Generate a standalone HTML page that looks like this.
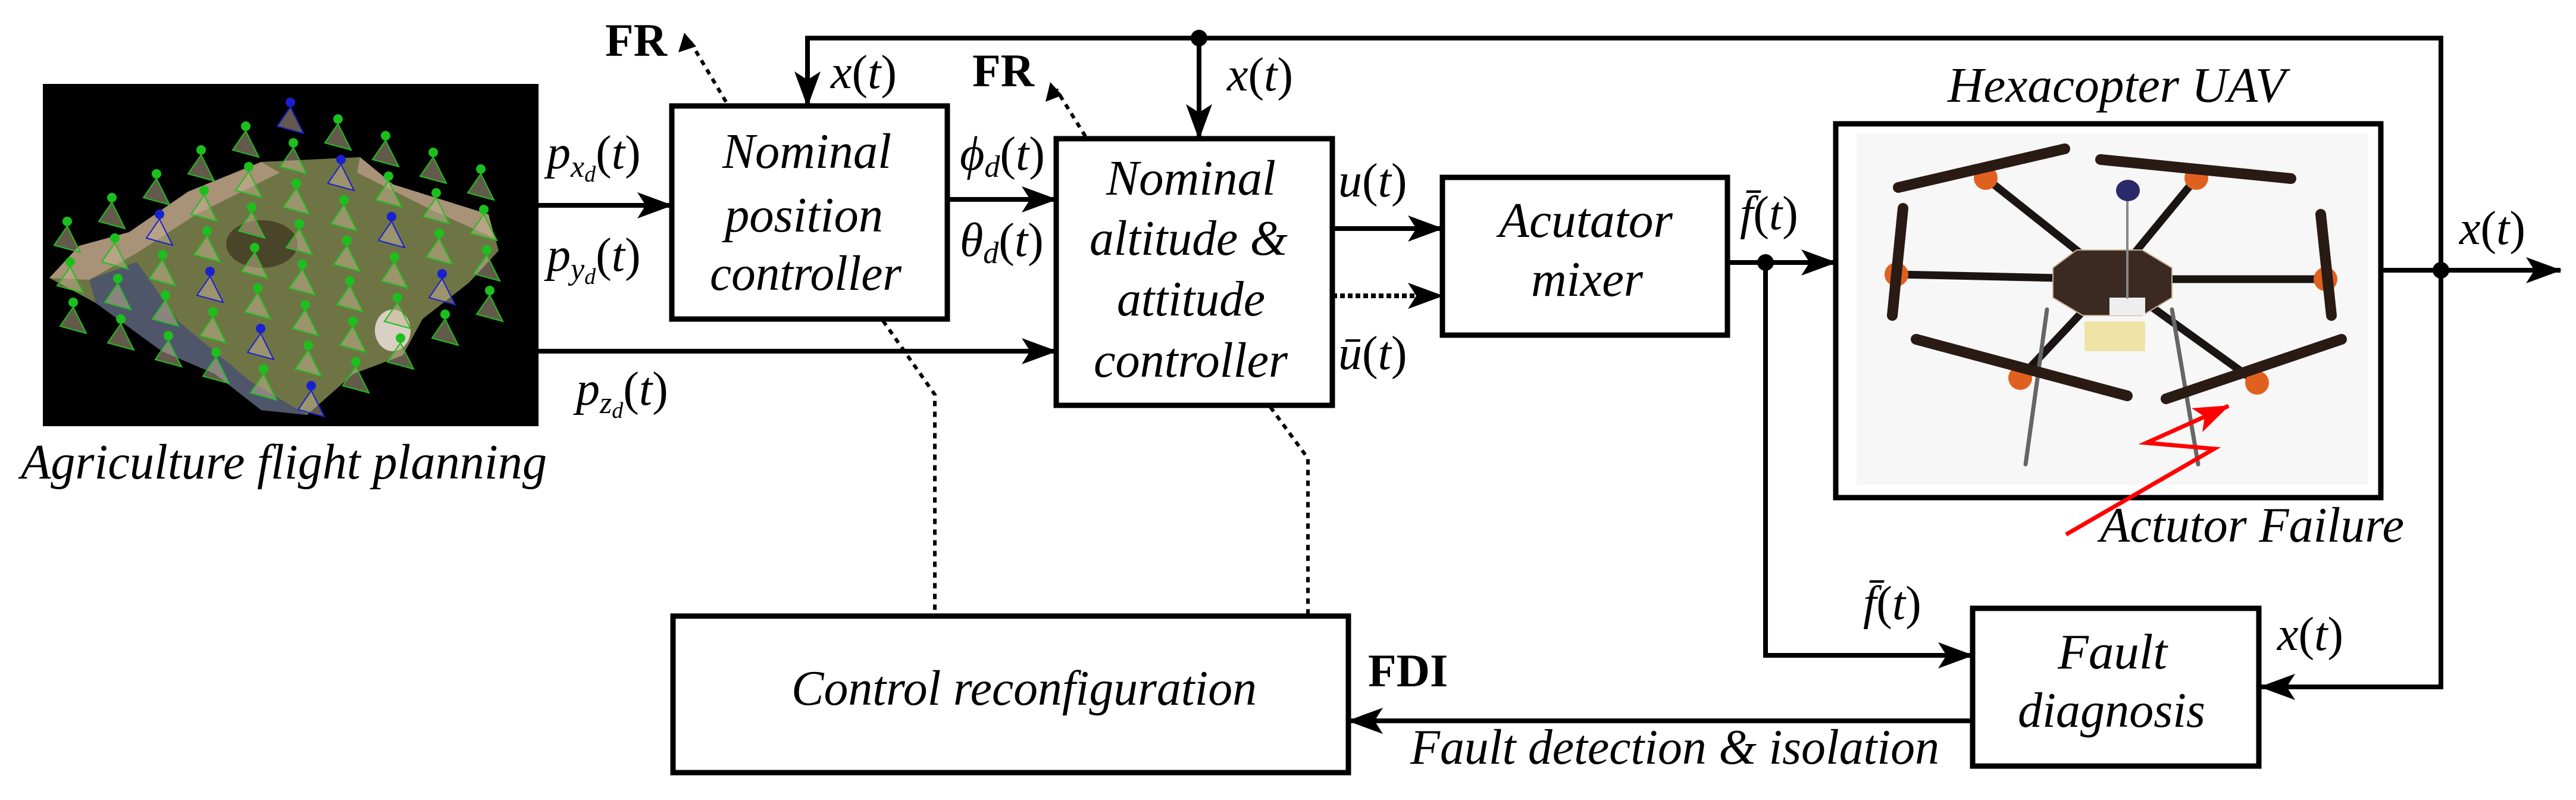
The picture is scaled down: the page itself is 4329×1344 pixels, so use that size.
<!DOCTYPE html>
<html><head><meta charset="utf-8"><style>
html,body{margin:0;padding:0;background:#fff;}
svg{display:block;}
text{font-family:"Liberation Serif",serif;font-style:italic;fill:#000;}
.b{font-style:normal;font-weight:bold;}
.up{font-style:normal;}
</style></head><body>
<svg id="s" width="4329" height="1344" viewBox="0 0 4329 1344" xmlns="http://www.w3.org/2000/svg">
<defs>
<marker id="ahl" viewBox="0 0 60 44" refX="58" refY="22" markerWidth="60" markerHeight="44" markerUnits="userSpaceOnUse" orient="auto">
<path d="M0,0 L60,22 L0,44 L14,22 z" fill="#000"/></marker>
<marker id="ahr" viewBox="0 0 60 44" refX="58" refY="22" markerWidth="60" markerHeight="44" markerUnits="userSpaceOnUse" orient="auto">
<path d="M0,0 L60,22 L0,44 L14,22 z" fill="#f00"/></marker>
</defs>

<!-- photo -->
<rect x="72" y="141" width="833" height="575" fill="#000"/>
<polygon points="83,467 133,413 217,390 316,322 439,272 605,264 661,310 821,360 838,421 788,475 710,536 677,597 594,628 516,697 439,689 361,628 272,590 161,509" fill="#6f7445"/>
<polygon points="83,467 133,413 217,390 316,322 439,272 470,290 330,360 230,425 150,470" fill="#a89278"/>
<polygon points="605,264 661,310 821,360 830,400 720,350 600,290" fill="#a89278"/>
<polygon points="150,470 230,440 300,540 420,640 516,697 439,689 361,628 272,590 161,509" fill="#4f566a"/>
<ellipse cx="440" cy="410" rx="60" ry="40" fill="#4a4428"/>
<ellipse cx="660" cy="555" rx="30" ry="35" fill="#d8d0c4"/>
<g id="dots"></g>

<!-- connectors -->
<g stroke="#000" stroke-width="8" fill="none">
<polyline points="1357,64 4102,64 4102,1154 3799,1154" marker-end="url(#ahl)"/>
<line x1="1357" y1="60" x2="1357" y2="178" marker-end="url(#ahl)"/>
<line x1="2015" y1="64" x2="2015" y2="233" marker-end="url(#ahl)"/>
<line x1="905" y1="345" x2="1129" y2="345" marker-end="url(#ahl)"/>
<line x1="905" y1="590" x2="1775" y2="590" marker-end="url(#ahl)"/>
<line x1="1592" y1="335" x2="1775" y2="335" marker-end="url(#ahl)"/>
<line x1="2239" y1="384" x2="2424" y2="384" marker-end="url(#ahl)"/>
<line x1="2239" y1="497" x2="2424" y2="497" stroke-dasharray="8,5" marker-end="url(#ahl)"/>
<line x1="2903" y1="441" x2="3085" y2="441" marker-end="url(#ahl)"/>
<polyline points="2967,441 2967,1101 3315,1101" marker-end="url(#ahl)"/>
<line x1="4001" y1="454" x2="4303" y2="454" marker-end="url(#ahl)"/>
<line x1="3315" y1="1211" x2="2266" y2="1211" marker-end="url(#ahl)"/>
</g>
<g stroke="#000" stroke-width="6" fill="none" stroke-dasharray="9,9">
<polyline points="1484,539 1571,663 1571,1035"/>
<polyline points="2135,684 2198,770 2198,1035"/>
<line x1="1220" y1="171" x2="1160" y2="70"/>
<line x1="1824" y1="229" x2="1775" y2="150"/>
</g>
<path d="M1150,55 L1140,88 L1170,78 z" fill="#000"/>
<path d="M1765,138 L1757,171 L1785,160 z" fill="#000"/>
<circle cx="2015" cy="64" r="14" fill="#000"/>
<circle cx="2967" cy="441" r="14" fill="#000"/>
<circle cx="4102" cy="454" r="14" fill="#000"/>

<!-- boxes -->
<g stroke="#000" stroke-width="9" fill="none">
<rect x="1129" y="178" width="463" height="358"/>
<rect x="1775" y="233" width="464" height="448"/>
<rect x="2424" y="298" width="479" height="265"/>
<rect x="1131" y="1035" width="1135" height="263"/>
<rect x="3315" y="1022" width="481" height="265"/>
</g>
<rect x="3120" y="225" width="860" height="590" fill="#f7f7f7"/>
<rect x="3085" y="208" width="916" height="628" stroke="#000" stroke-width="9" fill="none"/>

<!-- drone -->
<g stroke-linecap="round">
<g stroke="#1a1512" stroke-width="13">
<line x1="3551" y1="469" x2="3337" y2="299"/><line x1="3551" y1="469" x2="3691" y2="299"/>
<line x1="3551" y1="469" x2="3187" y2="461"/><line x1="3551" y1="469" x2="3908" y2="469"/>
<line x1="3551" y1="469" x2="3395" y2="635"/><line x1="3551" y1="469" x2="3793" y2="643"/>
</g>
<g stroke="#666" stroke-width="7"><line x1="3440" y1="520" x2="3404" y2="780"/><line x1="3650" y1="520" x2="3694" y2="780"/></g>
<rect x="3503" y="540" width="102" height="50" fill="#efe4a6"/>
<polygon points="3490,420 3600,420 3650,450 3650,500 3600,530 3500,530 3450,500 3450,450" fill="#3a2a22" stroke="#c8b090" stroke-width="2"/>
<rect x="3545" y="500" width="60" height="30" fill="#eee"/>
<line x1="3575" y1="320" x2="3575" y2="500" stroke="#888" stroke-width="4"/>
<ellipse cx="3576" cy="320" rx="20" ry="18" fill="#2a2a6a"/>
<g fill="#e06020">
<circle cx="3337" cy="299" r="20"/><circle cx="3691" cy="299" r="20"/><circle cx="3187" cy="461" r="20"/>
<circle cx="3908" cy="469" r="20"/><circle cx="3395" cy="635" r="20"/><circle cx="3793" cy="643" r="20"/>
</g>
<g stroke="#2a1a14" stroke-width="18">
<line x1="3190" y1="315" x2="3470" y2="250"/><line x1="3530" y1="268" x2="3850" y2="300"/>
<line x1="3198" y1="350" x2="3180" y2="530"/><line x1="3900" y1="360" x2="3918" y2="530"/>
<line x1="3220" y1="570" x2="3575" y2="665"/><line x1="3640" y1="670" x2="3935" y2="570"/>
</g>
</g>
<polyline points="3472,898 3721,754 3607,744 3745,682" stroke="#f00" stroke-width="7" fill="none" marker-end="url(#ahr)"/>

<!-- text -->
<g font-size="84">
<text x="1214" y="282" textLength="284" lengthAdjust="spacingAndGlyphs">Nominal</text>
<text x="1218" y="389" textLength="266" lengthAdjust="spacingAndGlyphs">position</text>
<text x="1193" y="487" textLength="322" lengthAdjust="spacingAndGlyphs">controller</text>
<text x="1859" y="327" textLength="285" lengthAdjust="spacingAndGlyphs">Nominal</text>
<text x="1831" y="428" textLength="333" lengthAdjust="spacingAndGlyphs">altitude &amp;</text>
<text x="1877" y="530" textLength="249" lengthAdjust="spacingAndGlyphs">attitude</text>
<text x="1838" y="633" textLength="326" lengthAdjust="spacingAndGlyphs">controller</text>
<text x="2519" y="398" textLength="292" lengthAdjust="spacingAndGlyphs">Acutator</text>
<text x="2573" y="497" textLength="188" lengthAdjust="spacingAndGlyphs">mixer</text>
<text x="3458" y="1123" textLength="184" lengthAdjust="spacingAndGlyphs">Fault</text>
<text x="3391" y="1221" textLength="315" lengthAdjust="spacingAndGlyphs">diagnosis</text>
<text x="3273" y="171" textLength="568" lengthAdjust="spacingAndGlyphs">Hexacopter UAV</text>
<text x="3529" y="910" textLength="511" lengthAdjust="spacingAndGlyphs">Actutor Failure</text>
<text x="2370" y="1283" textLength="889" lengthAdjust="spacingAndGlyphs">Fault detection &amp; isolation</text>
<text x="1330" y="1184" textLength="782" lengthAdjust="spacingAndGlyphs">Control reconfiguration</text>
<text x="35" y="804" textLength="884" lengthAdjust="spacingAndGlyphs">Agriculture flight planning</text>
</g>
<g class="b" font-size="78">
<text class="b" x="1017" y="94">FR</text>
<text class="b" x="1634" y="145">FR</text>
<text class="b" x="2299" y="1153">FDI</text>
</g>
<g font-size="80">
<text x="919" y="283">p<tspan font-size="52" dy="14">x</tspan><tspan font-size="38" dy="8">d</tspan><tspan class="up" dy="-22">(</tspan>t<tspan class="up">)</tspan></text>
<text x="919" y="455">p<tspan font-size="52" dy="14">y</tspan><tspan font-size="38" dy="8">d</tspan><tspan class="up" dy="-22">(</tspan>t<tspan class="up">)</tspan></text>
<text x="968" y="680">p<tspan font-size="52" dy="14">z</tspan><tspan font-size="38" dy="8">d</tspan><tspan class="up" dy="-22">(</tspan>t<tspan class="up">)</tspan></text>
<text x="1613" y="285">ϕ<tspan font-size="52" dy="12">d</tspan><tspan class="up" dy="-12">(</tspan>t<tspan class="up">)</tspan></text>
<text x="1613" y="430">θ<tspan font-size="52" dy="12">d</tspan><tspan class="up" dy="-12">(</tspan>t<tspan class="up">)</tspan></text>
<text x="1396" y="148">x<tspan class="up">(</tspan>t<tspan class="up">)</tspan></text>
<text x="2062" y="152">x<tspan class="up">(</tspan>t<tspan class="up">)</tspan></text>
<text x="2249" y="330">u<tspan class="up">(</tspan>t<tspan class="up">)</tspan></text>
<text x="2249" y="620">ū<tspan class="up">(</tspan>t<tspan class="up">)</tspan></text>
<text x="2924" y="385">f̄<tspan class="up">(</tspan>t<tspan class="up">)</tspan></text>
<text x="3131" y="1040">f̄<tspan class="up">(</tspan>t<tspan class="up">)</tspan></text>
<text x="4133" y="410">x<tspan class="up">(</tspan>t<tspan class="up">)</tspan></text>
<text x="3827" y="1092">x<tspan class="up">(</tspan>t<tspan class="up">)</tspan></text>
</g>
</svg>
<script>
var g=document.getElementById('dots'),h='';
for(var i=0;i<8;i++)for(var j=0;j<8;j++){
var x=488+80*i-75*j,y=172+28*i+40*j;
if(x<90||x>880||y<150||y>700)continue;
var c=((i*3+j)%7==0)?'#1a20d0':'#1cc01c';
h+='<polygon points="'+(x-22)+','+(y+40)+' '+(x+22)+','+(y+52)+' '+x+','+(y+8)+'" fill="rgba(200,180,150,0.5)" stroke="'+c+'" stroke-width="2"/>';
h+='<circle cx="'+x+'" cy="'+y+'" r="8" fill="'+c+'"/>';}
g.innerHTML=h;
</script>
</body></html>
